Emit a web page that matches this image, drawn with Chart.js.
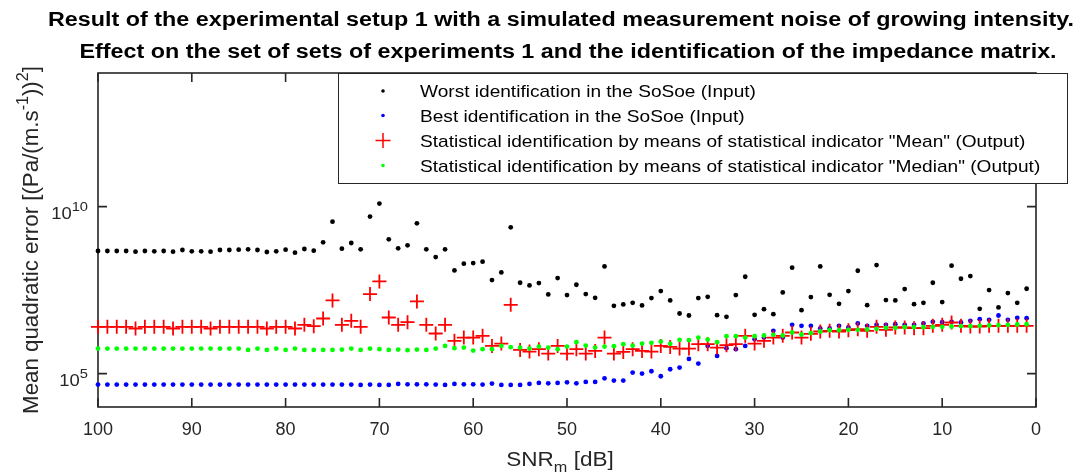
<!DOCTYPE html>
<html>
<head>
<meta charset="utf-8">
<title>SNR sweep - mean quadratic error</title>
<script src="https://cdn.jsdelivr.net/npm/chart.js@4.4.1/dist/chart.umd.min.js"></script>
<style>
    html, body { margin: 0; padding: 0; background: #fff; }
    #wrap { width: 1083px; height: 474px; }
</style>
</head>
<body>
<div id="wrap"><canvas id="errorChart" width="1083" height="474"></canvas></div>
<script>

// ==========================================
// Data (errors stored as log10 exponents)
// ==========================================

const snrDb = [
    100, 99, 98, 97, 96, 95, 94, 93, 92, 91,
    90, 89, 88, 87, 86, 85, 84, 83, 82, 81,
    80, 79, 78, 77, 76, 75, 74, 73, 72, 71,
    70, 69, 68, 67, 66, 65, 64, 63, 62, 61,
    60, 59, 58, 57, 56, 55, 54, 53, 52, 51,
    50, 49, 48, 47, 46, 45, 44, 43, 42, 41,
    40, 39, 38, 37, 36, 35, 34, 33, 32, 31,
    30, 29, 28, 27, 26, 25, 24, 23, 22, 21,
    20, 19, 18, 17, 16, 15, 14, 13, 12, 11,
    10, 9, 8, 7, 6, 5, 4, 3, 2, 1
];

const worstExp = [
    8.67, 8.67, 8.67, 8.67, 8.65, 8.67, 8.66, 8.67, 8.65, 8.70,
    8.66, 8.66, 8.65, 8.70, 8.70, 8.71, 8.72, 8.70, 8.64, 8.66,
    8.71, 8.62, 8.73, 8.68, 8.93, 9.55, 8.74, 8.91, 8.72, 9.70,
    10.09, 9.02, 8.75, 8.84, 9.50, 8.72, 8.49, 8.72, 8.09, 8.29,
    8.31, 8.35, 7.80, 8.03, 9.38, 7.72, 7.64, 7.71, 7.37, 7.86,
    7.35, 7.66, 7.38, 7.27, 8.21, 7.03, 7.07, 7.12, 7.04, 7.26,
    7.47, 7.19, 6.80, 6.74, 7.26, 7.30, 6.75, 6.70, 7.35, 7.90,
    6.76, 6.93, 6.78, 7.43, 8.17, 6.90, 7.29, 8.21, 7.36, 7.09,
    7.47, 8.08, 7.05, 8.25, 7.20, 7.19, 7.53, 7.08, 7.12, 7.72,
    7.14, 8.23, 7.84, 7.92, 6.94, 7.50, 6.98, 7.41, 7.12, 7.54
];

const bestExp = [
    4.67, 4.67, 4.67, 4.67, 4.67, 4.67, 4.67, 4.67, 4.67, 4.67,
    4.67, 4.67, 4.67, 4.67, 4.67, 4.67, 4.67, 4.67, 4.67, 4.67,
    4.67, 4.67, 4.67, 4.67, 4.67, 4.67, 4.67, 4.67, 4.66, 4.67,
    4.66, 4.66, 4.69, 4.68, 4.68, 4.68, 4.67, 4.66, 4.69, 4.68,
    4.68, 4.67, 4.70, 4.66, 4.66, 4.66, 4.69, 4.72, 4.71, 4.72,
    4.74, 4.71, 4.75, 4.75, 4.86, 4.79, 4.79, 5.03, 5.00, 5.07,
    4.92, 5.13, 5.18, 5.44, 5.30, 5.83, 5.53, 5.76, 5.73, 5.83,
    6.03, 6.08, 6.28, 6.08, 6.46, 6.43, 6.43, 6.35, 6.35, 6.43,
    6.38, 6.50, 6.43, 6.46, 6.46, 6.48, 6.46, 6.46, 6.50, 6.55,
    6.54, 6.55, 6.53, 6.58, 6.63, 6.61, 6.74, 6.61, 6.67, 6.66
];

const meanExp = [
    6.40, 6.40, 6.40, 6.40, 6.35, 6.40, 6.40, 6.40, 6.35, 6.40,
    6.40, 6.40, 6.35, 6.40, 6.40, 6.40, 6.40, 6.40, 6.35, 6.40,
    6.40, 6.35, 6.46, 6.42, 6.65, 7.19, 6.46, 6.58, 6.40, 7.38,
    7.76, 6.68, 6.46, 6.54, 7.16, 6.46, 6.20, 6.46, 5.98, 6.08,
    6.08, 6.13, 5.83, 5.90, 7.06, 5.71, 5.66, 5.73, 5.60, 5.83,
    5.60, 5.73, 5.60, 5.68, 6.08, 5.60, 5.65, 5.73, 5.68, 5.66,
    5.83, 5.80, 5.75, 5.75, 5.88, 5.88, 5.78, 5.85, 5.88, 6.13,
    5.90, 5.98, 6.08, 6.13, 6.23, 6.08, 6.19, 6.26, 6.28, 6.26,
    6.30, 6.33, 6.28, 6.40, 6.31, 6.38, 6.38, 6.36, 6.36, 6.43,
    6.46, 6.53, 6.43, 6.41, 6.41, 6.43, 6.43, 6.43, 6.43, 6.43
];

const medianExp = [
    5.75, 5.75, 5.75, 5.75, 5.75, 5.75, 5.75, 5.75, 5.75, 5.75,
    5.75, 5.75, 5.75, 5.75, 5.75, 5.75, 5.71, 5.75, 5.71, 5.75,
    5.71, 5.75, 5.71, 5.71, 5.71, 5.71, 5.72, 5.75, 5.71, 5.75,
    5.73, 5.71, 5.72, 5.70, 5.72, 5.71, 5.75, 5.83, 5.76, 5.78,
    5.69, 5.73, 5.73, 5.83, 5.79, 5.78, 5.75, 5.81, 5.78, 5.73,
    5.81, 5.94, 5.84, 5.78, 5.81, 5.82, 5.88, 5.84, 5.90, 5.92,
    5.96, 5.89, 6.01, 6.00, 6.08, 6.02, 5.94, 6.12, 6.12, 6.08,
    6.12, 6.14, 6.16, 6.14, 6.23, 6.17, 6.21, 6.26, 6.30, 6.30,
    6.31, 6.31, 6.32, 6.34, 6.37, 6.37, 6.39, 6.39, 6.39, 6.40,
    6.40, 6.41, 6.42, 6.42, 6.43, 6.44, 6.45, 6.46, 6.47, 6.48
];

const xTicks = [100, 90, 80, 70, 60, 50, 40, 30, 20, 10, 0];
const yTickExps = [5, 10];

const seriesLabels = [
    "Worst identification in the SoSoe (Input)",
    "Best identification in the SoSoe (Input)",
    "Statistical identification by means of statistical indicator \"Mean\" (Output)",
    "Statistical identification by means of statistical indicator \"Median\" (Output)"
];

const titleLines = [
    "Result of the experimental setup 1 with a simulated measurement noise of growing intensity.",
    "Effect on the set of sets of experiments 1 and the identification of the impedance matrix."
];

const FONT = "'Liberation Sans', Arial, sans-serif";
const AXIS_COLOR = "#262626";
const TEXT_STRETCH = 1.15;   // Helvetica-like wide glyphs

let errorChart = null;

document.addEventListener("DOMContentLoaded", () => {

    renderErrorChart();

});


// ==========================================
// Helpers
// ==========================================

function toPoints(exps) {

    return snrDb.map((snr, i) => ({ x: snr, y: Math.pow(10, exps[i]) }));

}

// parts: [text, kind]  kind 0 = normal, 1 = superscript, -1 = subscript
function drawRich(ctx, parts, x, y, opts) {

    const size = opts.size;
    const sx = opts.stretch || 1;
    const small = size * (opts.smallScale || 0.72);
    const weight = opts.weight || "normal";

    const fontOf = kind => `${weight} ${kind ? small : size}px ${FONT}`;

    const widths = parts.map(([text, kind]) => {
        ctx.font = fontOf(kind);
        return ctx.measureText(text).width * sx;
    });

    const total = widths.reduce((a, b) => a + b, 0);

    let cx = x;
    if (opts.align === "center") cx = x - total / 2;
    if (opts.align === "right") cx = x - total;

    ctx.textAlign = "left";
    ctx.textBaseline = "alphabetic";

    parts.forEach(([text, kind], i) => {
        ctx.font = fontOf(kind);
        let dy = 0;
        if (kind === 1) dy = -size * 0.45;
        if (kind === -1) dy = size * 0.32;
        ctx.save();
        ctx.translate(cx, y + dy);
        ctx.scale(sx, 1);
        ctx.fillText(text, 0, 0);
        ctx.restore();
        cx += widths[i];
    });

}


// ==========================================
// Axes frame, labels and legend
// ==========================================

const matlabFrame = {

    id: "matlabFrame",

    beforeDatasetsDraw(chart) {

        const { ctx, chartArea: a, scales } = chart;

        ctx.save();
        ctx.strokeStyle = AXIS_COLOR;
        ctx.lineWidth = 1.6;
        ctx.strokeRect(a.left, a.top, a.right - a.left, a.bottom - a.top);

        ctx.beginPath();
        xTicks.forEach(v => {
            const px = scales.x.getPixelForValue(v);
            ctx.moveTo(px, a.bottom);
            ctx.lineTo(px, a.bottom - 9);
            ctx.moveTo(px, a.top);
            ctx.lineTo(px, a.top + 9);
        });
        yTickExps.forEach(e => {
            const py = scales.y.getPixelForValue(Math.pow(10, e));
            ctx.moveTo(a.left, py);
            ctx.lineTo(a.left + 9, py);
            ctx.moveTo(a.right, py);
            ctx.lineTo(a.right - 9, py);
        });
        ctx.stroke();
        ctx.restore();

    },

    afterDraw(chart) {

        const { ctx, chartArea: a, scales } = chart;

        ctx.save();

        // title
        ctx.fillStyle = "#000";
        drawRich(ctx, [[titleLines[0], 0]], 561, 26,
            { size: 20.3, weight: "bold", align: "center", stretch: TEXT_STRETCH });
        drawRich(ctx, [[titleLines[1], 0]], 568, 58,
            { size: 20.3, weight: "bold", align: "center", stretch: TEXT_STRETCH });

        // y tick labels 10^n
        ctx.fillStyle = AXIS_COLOR;
        yTickExps.forEach(e => {
            const py = scales.y.getPixelForValue(Math.pow(10, e));
            drawRich(ctx, [["10", 0], [String(e), 1]], a.left - 10, py + 12,
                { size: 16, smallScale: 0.8, align: "right", stretch: TEXT_STRETCH });
        });

        // x axis title
        drawRich(ctx, [["SNR", 0], ["m", -1], [" [dB]", 0]],
            560, 466,
            { size: 19.6, align: "center", stretch: TEXT_STRETCH });

        // y axis title
        ctx.translate(38, (a.top + a.bottom) / 2);
        ctx.rotate(-Math.PI / 2);
        drawRich(ctx, [
            ["Mean quadratic error [(Pa/(m.s", 0],
            ["-1", 1],
            ["))", 0],
            ["2", 1],
            ["]", 0]
        ], 0, 0, { size: 22.3, align: "center" });
        ctx.setTransform(1, 0, 0, 1, 0, 0);

        // legend
        const box = { left: 338, top: 73, right: 1067, bottom: 183 };
        ctx.fillStyle = "#fff";
        ctx.fillRect(box.left, box.top, box.right - box.left, box.bottom - box.top);
        ctx.strokeStyle = AXIS_COLOR;
        ctx.lineWidth = 1;
        ctx.strokeRect(box.left + 0.5, box.top + 0.5, box.right - box.left, box.bottom - box.top);

        const rowY = [91, 115.5, 140.5, 165.5];
        chart.data.datasets.forEach((ds, i) => {
            const y = rowY[i];
            if (ds.pointStyle === "cross") {
                ctx.strokeStyle = ds.borderColor;
                ctx.lineWidth = 1.5;
                ctx.beginPath();
                ctx.moveTo(383 - 7.5, y);
                ctx.lineTo(383 + 7.5, y);
                ctx.moveTo(383, y - 7.5);
                ctx.lineTo(383, y + 7.5);
                ctx.stroke();
            } else {
                ctx.fillStyle = ds.backgroundColor;
                ctx.beginPath();
                ctx.arc(383, y, 1.8, 0, Math.PI * 2);
                ctx.fill();
            }
            ctx.fillStyle = "#000";
            drawRich(ctx, [[seriesLabels[i], 0]], 420, y + 6,
                { size: 16.6, stretch: TEXT_STRETCH });
        });

        ctx.restore();

    }

};


// ==========================================
// Error Chart
// ==========================================

function renderErrorChart() {

    const ctx = document
        .getElementById("errorChart")
        .getContext("2d");

    if (errorChart) {
        errorChart.destroy();
    }

    const dot = color => ({
        backgroundColor: color,
        borderColor: color,
        borderWidth: 0,
        pointRadius: 2.4,
        pointHoverRadius: 2.4,
        pointStyle: "circle"
    });

    errorChart = new Chart(ctx, {

        type: "scatter",

        data: {

            datasets: [
                Object.assign({ label: seriesLabels[0], data: toPoints(worstExp), order: 4, clip: false }, dot("#000000")),
                Object.assign({ label: seriesLabels[1], data: toPoints(bestExp), order: 3, clip: false }, dot("#0000ff")),
                {
                    label: seriesLabels[2],
                    data: toPoints(meanExp),
                    order: 2,
                    clip: false,
                    pointStyle: "cross",
                    pointRadius: 7,
                    pointHoverRadius: 7,
                    borderColor: "#ff0000",
                    backgroundColor: "#ff0000",
                    borderWidth: 1.8
                },
                Object.assign({ label: seriesLabels[3], data: toPoints(medianExp), order: 1, clip: false }, dot("#00ff00"))
            ]

        },

        options: {

            responsive: false,
            devicePixelRatio: 1,
            animation: false,

            layout: {
                padding: { top: 73, right: 47, bottom: 0, left: 0 }
            },

            plugins: {
                legend: { display: false },
                title: { display: false },
                tooltip: { enabled: false }
            },

            scales: {

                x: {
                    type: "linear",
                    min: 0,
                    max: 100,
                    reverse: true,
                    grid: { display: false, drawTicks: false },
                    border: { display: false },
                    afterBuildTicks: scale => {
                        scale.ticks = xTicks.map(v => ({ value: v }));
                    },
                    ticks: {
                        color: AXIS_COLOR,
                        padding: 12,
                        maxRotation: 0,
                        autoSkip: false,
                        font: { family: FONT, size: 18 }
                    },
                    afterFit: scale => {
                        scale.height = 67;
                    }
                },

                y: {
                    type: "logarithmic",
                    min: 1e4,
                    max: 1e14,
                    grid: { display: false, drawTicks: false },
                    border: { display: false },
                    ticks: { display: false },
                    afterFit: scale => {
                        scale.width = 98;
                    }
                }

            }

        },

        plugins: [matlabFrame]

    });

}

</script>
</body>
</html>
